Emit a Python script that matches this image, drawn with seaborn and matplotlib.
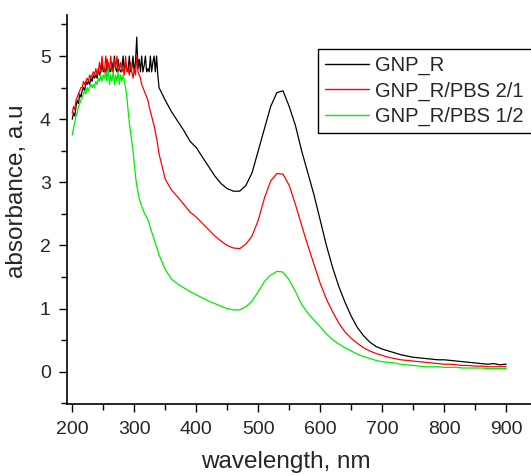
import numpy as np
import pandas as pd
import matplotlib
matplotlib.use("Agg")
import matplotlib.pyplot as plt
import seaborn as sns
from matplotlib.ticker import MultipleLocator

# ---------------- data ----------------
# UV part (noisy, saturated detector region), 2 nm grid
wavelength_uv = list(range(200, 342, 2))
# visible part, 10 nm grid
wavelength_vis = list(range(350, 910, 10))

gnp_r_uv = [4.0, 4.1, 4.05, 4.2, 4.3, 4.25, 4.4, 4.35, 4.45, 4.5,
            4.45, 4.6, 4.55, 4.6, 4.55, 4.65, 4.6, 4.7, 4.65, 4.7,
            4.65, 4.8, 4.7, 4.75, 4.9, 4.75, 4.8, 4.7, 4.95, 4.75,
            4.8, 4.75, 4.9, 4.75, 5.0, 4.8, 4.75, 4.95, 4.8, 4.75,
            4.8, 5.0, 4.75, 4.9, 4.8, 4.75, 5.0, 4.75, 4.8, 5.0,
            4.75, 4.9, 5.3, 4.8, 4.95, 4.75, 5.0, 4.75, 4.85, 5.0,
            4.75, 4.8, 4.75, 5.0, 4.75, 4.9, 5.0, 4.75, 5.0, 4.7,
            4.5]
gnp_r_vis = [4.3, 4.12, 3.97, 3.82, 3.65, 3.55, 3.4, 3.25, 3.1, 2.98,
             2.9, 2.86, 2.86, 2.95, 3.15, 3.5, 3.85, 4.2, 4.42, 4.45,
             4.2, 3.9, 3.5, 3.15, 2.8, 2.4, 2.0, 1.65, 1.35, 1.1,
             0.88, 0.7, 0.57, 0.47, 0.4, 0.36, 0.33, 0.3, 0.27, 0.25,
             0.23, 0.22, 0.21, 0.2, 0.19, 0.19, 0.18, 0.17, 0.16, 0.15,
             0.14, 0.13, 0.12, 0.13, 0.11, 0.12]

gnp_r_pbs_21_uv = [4.1, 4.2, 4.15, 4.3, 4.35, 4.4, 4.45, 4.5, 4.5, 4.6,
                   4.55, 4.6, 4.65, 4.6, 4.7, 4.65, 4.7, 4.75, 4.7, 4.8,
                   4.7, 4.75, 4.9, 4.75, 5.0, 4.8, 4.75, 5.0, 4.8, 4.9,
                   4.75, 5.0, 4.8, 4.75, 4.95, 4.8, 5.0, 4.75, 4.8, 4.9,
                   4.75, 4.8, 4.7, 5.0, 4.75, 4.8, 4.7, 4.9, 4.75, 4.65,
                   4.8, 4.7, 5.0, 4.75, 4.7, 4.65, 4.55, 4.5, 4.45, 4.4,
                   4.35, 4.3, 4.2, 4.12, 4.05, 3.97, 3.9, 3.8, 3.7, 3.58,
                   3.45]
gnp_r_pbs_21_vis = [3.05, 2.88, 2.77, 2.65, 2.53, 2.45, 2.35, 2.25, 2.15, 2.07,
                    2.0, 1.96, 1.95, 2.02, 2.15, 2.4, 2.75, 3.02, 3.14, 3.13,
                    2.95, 2.65, 2.32, 2.0, 1.7, 1.4, 1.15, 0.95, 0.77, 0.63,
                    0.53, 0.45, 0.38, 0.33, 0.29, 0.26, 0.23, 0.21, 0.19, 0.18,
                    0.17, 0.16, 0.15, 0.14, 0.13, 0.12, 0.12, 0.11, 0.1, 0.1,
                    0.09, 0.09, 0.08, 0.08, 0.08, 0.08]

gnp_r_pbs_12_uv = [3.75, 3.85, 3.95, 4.05, 4.1, 4.2, 4.25, 4.3, 4.35, 4.4,
                   4.45, 4.4, 4.5, 4.45, 4.5, 4.55, 4.5, 4.55, 4.5, 4.6,
                   4.55, 4.65, 4.6, 4.7, 4.6, 4.7, 4.65, 4.75, 4.6, 4.8,
                   4.55, 4.7, 4.6, 4.75, 4.55, 4.7, 4.6, 4.75, 4.55, 4.7,
                   4.6, 4.7, 4.6, 4.5, 4.35, 4.15, 3.95, 3.8, 3.65, 3.5,
                   3.3, 3.1, 2.95, 2.85, 2.75, 2.68, 2.62, 2.57, 2.52, 2.48,
                   2.45, 2.4, 2.35, 2.28, 2.22, 2.16, 2.1, 2.04, 1.98, 1.92,
                   1.85]
gnp_r_pbs_12_vis = [1.62, 1.47, 1.39, 1.33, 1.27, 1.22, 1.17, 1.12, 1.08, 1.04,
                    1.0, 0.98, 0.98, 1.03, 1.12, 1.27, 1.43, 1.53, 1.59, 1.58,
                    1.45, 1.27, 1.07, 0.93, 0.82, 0.71, 0.6, 0.51, 0.44, 0.38,
                    0.33, 0.28, 0.24, 0.21, 0.18, 0.16, 0.15, 0.14, 0.12, 0.11,
                    0.1, 0.09, 0.08, 0.08, 0.08, 0.07, 0.07, 0.07, 0.06, 0.06,
                    0.06, 0.06, 0.05, 0.05, 0.05, 0.05]

series_names = ["GNP_R", "GNP_R/PBS 2/1", "GNP_R/PBS 1/2"]
series_colors = ["#000000", "#ff0000", "#00ee00"]

x_ticks = [200, 300, 400, 500, 600, 700, 800, 900]
y_ticks = [0, 1, 2, 3, 4, 5]

wavelength = wavelength_uv + wavelength_vis
series_values = [gnp_r_uv + gnp_r_vis,
                 gnp_r_pbs_21_uv + gnp_r_pbs_21_vis,
                 gnp_r_pbs_12_uv + gnp_r_pbs_12_vis]

df = pd.concat([
    pd.DataFrame({"wavelength": wavelength, "absorbance": vals, "sample": name})
    for name, vals in zip(series_names, series_values)
], ignore_index=True)

# ---------------- style ----------------
sns.set_theme(style="ticks")
plt.rcParams["font.family"] = ["Liberation Sans", "DejaVu Sans"]
text_color = "#262626"

W, H = 531, 476
fig = plt.figure(figsize=(W / 100, H / 100), dpi=100)
left_px, right_px, top_px, bottom_px = 67.3, 531, 15, 404
ax = fig.add_axes([left_px / W, 1 - bottom_px / H, (right_px - left_px) / W, (bottom_px - top_px) / H])

sns.lineplot(data=df, x="wavelength", y="absorbance", hue="sample",
             hue_order=series_names, palette=dict(zip(series_names, series_colors)),
             estimator=None, sort=False, linewidth=0.9, ax=ax)

ax.set_xlim(192, 940)
ax.set_ylim(-0.51, 5.65)
ax.set_xticks(x_ticks)
ax.set_yticks(y_ticks)
ax.xaxis.set_minor_locator(MultipleLocator(50))
ax.yaxis.set_minor_locator(MultipleLocator(0.5))
ax.tick_params(axis="both", which="major", direction="out", length=6, width=1,
               color="black", labelsize=14, labelcolor=text_color, pad=6)
ax.tick_params(axis="both", which="minor", direction="out", length=4, width=1, color="black")

for s in ["top", "right"]:
    ax.spines[s].set_visible(False)
for s in ["left", "bottom"]:
    ax.spines[s].set_color("black")
    ax.spines[s].set_linewidth(1.2)

ax.set_xlabel("wavelength, nm", fontsize=17.5, color=text_color, va="baseline", ha="center")
ax.set_ylabel("absorbance, a.u", fontsize=17.5, color=text_color, va="center", ha="center")
ax.xaxis.set_label_coords((286 - left_px) / (right_px - left_px), -(468 - bottom_px) / (bottom_px - top_px))
ax.yaxis.set_label_coords((17 - left_px) / (right_px - left_px), (bottom_px - 191) / (bottom_px - top_px))

handles, labels = ax.get_legend_handles_labels()
ax.get_legend().remove()
lx0, ly0, lx1, ly1 = 318, 49, 545, 130
leg = fig.legend(handles, labels, loc="upper left",
                 bbox_to_anchor=(lx0 / W, 1 - ly1 / H, (lx1 - lx0) / W, (ly1 - ly0) / H),
                 mode="expand", fontsize=14.5, frameon=True, fancybox=False, shadow=False,
                 handlelength=2.2, handletextpad=0.3, labelspacing=0.3, borderpad=0.35,
                 borderaxespad=0)
leg.get_frame().set_edgecolor("black")
leg.get_frame().set_linewidth(1.0)
leg.get_frame().set_alpha(1)
for t in leg.get_texts():
    t.set_color(text_color)
for l in leg.get_lines():
    l.set_linewidth(1.0)

fig.savefig("out.png", dpi=100)
